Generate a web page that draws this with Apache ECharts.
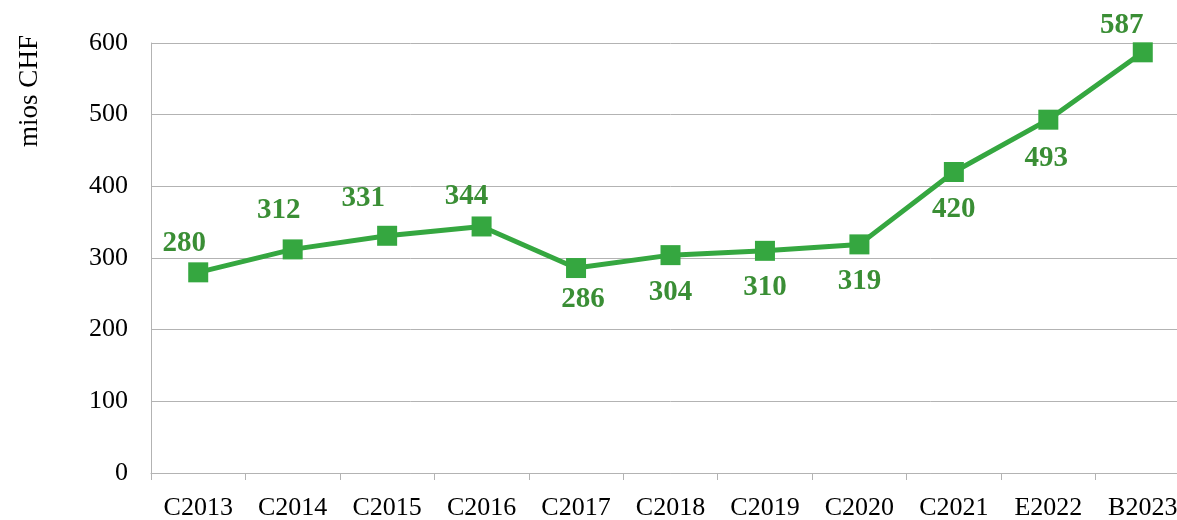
<!DOCTYPE html>
<html>
<head>
<meta charset="utf-8">
<script src="https://cdn.jsdelivr.net/npm/echarts@6/dist/echarts.min.js"></script>
<style>html,body{margin:0;padding:0;background:#fff;overflow:hidden;width:1177px;height:520px;}#c{width:1190px;height:520px;}</style>
</head>
<body>
<div id="c"></div>
<script>
var categories = ['C2013','C2014','C2015','C2016','C2017','C2018','C2019','C2020','C2021','E2022','B2023'];
var values = [280, 312, 331, 344, 286, 304, 310, 319, 420, 493, 587];
var yTicks = [0, 100, 200, 300, 400, 500, 600];
var labelSide = ['top','top','top','top','bottom','bottom','bottom','bottom','bottom','bottom','top'];
var labelShift = [[-14,2],[-14,-8],[-24,-7],[-15,1],[7,1],[0,7],[0,6],[0,7],[0,7],[-2,8],[-21,4]];

var chart = echarts.init(document.getElementById('c'));
var serif = '"Liberation Serif", "Times New Roman", serif';
chart.setOption({
  animation: false,
  grid: { left: 151, right: 0, top: 43, bottom: 47, containLabel: false, outerBoundsMode: 'none' },
  graphic: [{
    type: 'text', x: 30, y: 91, rotation: Math.PI / 2,
    style: { text: 'mios CHF', font: '27px ' + serif, fill: '#000', textAlign: 'center', textVerticalAlign: 'middle' }
  }],
  xAxis: {
    type: 'category', data: categories, boundaryGap: true,
    axisLine: { show: true, lineStyle: { color: '#b3b3b3', width: 1 } },
    axisTick: { show: true, length: 7, alignWithLabel: false, lineStyle: { color: '#b3b3b3' } },
    axisLabel: { color: '#000', fontFamily: serif, fontSize: 26, margin: 22 },
    splitLine: { show: false }
  },
  yAxis: {
    type: 'value', min: yTicks[0], max: yTicks[yTicks.length - 1], interval: 100,
    axisLine: { show: true, lineStyle: { color: '#b3b3b3', width: 1 } },
    axisTick: { show: false },
    axisLabel: { color: '#000', fontFamily: serif, fontSize: 26, margin: 23 },
    splitLine: { show: true, lineStyle: { color: '#b3b3b3', width: 1 } }
  },
  series: [{
    type: 'line',
    data: values.map(function (v, i) {
      return { value: v, label: { position: labelSide[i], offset: labelShift[i] } };
    }),
    symbol: 'rect', symbolSize: 20,
    lineStyle: { color: '#35a740', width: 5 },
    itemStyle: { color: '#35a740' },
    label: {
      show: true, distance: 6, color: '#3a8e35',
      fontFamily: serif, fontSize: 29, fontWeight: 'bold'
    }
  }]
});
</script>
</body>
</html>
